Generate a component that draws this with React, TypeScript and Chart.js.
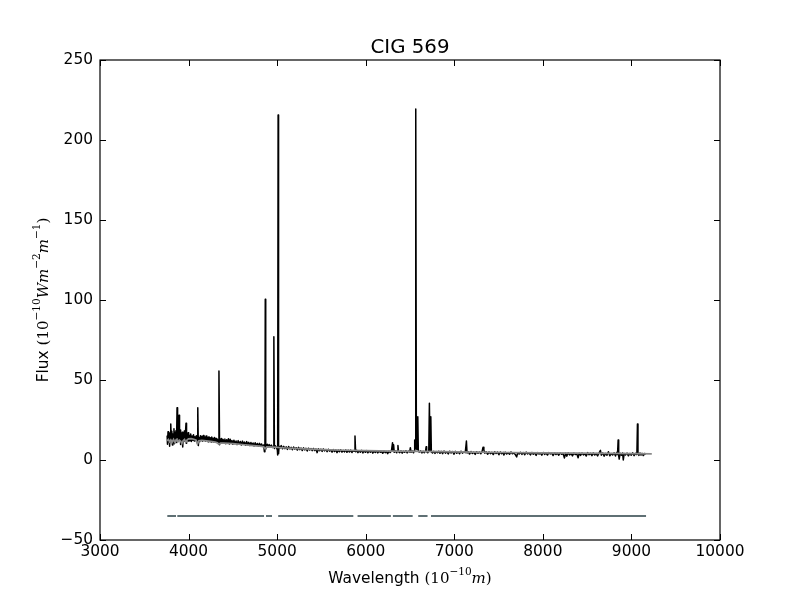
import React, { useEffect, useRef } from "react";
import { Chart, registerables } from "chart.js";

Chart.register(...registerables);

// observed spectrum, [wavelength (A), flux]
const spectrum: [number, number][] = [
  [3758, 15.2], [3762, 9.8], [3768, 17.6], [3774, 11.4], [3780, 16.8], [3786, 8.6], [3792, 14.9],
  [3799, 22.5], [3805, 12.1], [3811, 17.9], [3817, 9.4], [3823, 16.2], [3829, 12.8], [3835, 19.6],
  [3841, 10.2], [3847, 17.3], [3853, 13.5], [3859, 18.4], [3864, 11.0], [3870, 32.7], [3876, 14.2],
  [3882, 16.9], [3887, 12.3], [3892, 28.0], [3898, 13.1], [3904, 18.8], [3910, 9.7], [3916, 16.5],
  [3922, 10.8], [3928, 17.4], [3934, 8.2], [3940, 15.9], [3946, 12.6], [3952, 18.2], [3958, 11.7],
  [3964, 16.1], [3971, 23.0], [3977, 10.4], [3983, 15.3], [3989, 12.2], [3995, 17.1], [4001, 11.8],
  [4008, 15.4], [4016, 12.0], [4024, 16.2], [4032, 11.6], [4040, 15.0], [4048, 12.4], [4056, 15.8],
  [4064, 11.9], [4072, 14.6], [4080, 12.6], [4088, 15.2], [4096, 10.8], [4104, 32.7], [4110, 9.0],
  [4118, 14.0], [4126, 11.5], [4134, 15.1], [4142, 12.3], [4150, 14.8], [4158, 11.7], [4166, 15.3],
  [4174, 12.5], [4182, 14.4], [4190, 11.8], [4198, 15.0], [4206, 12.2], [4214, 14.1], [4222, 11.4],
  [4230, 14.6], [4238, 12.0], [4246, 13.9], [4254, 11.3], [4262, 14.3], [4270, 11.9], [4278, 13.6],
  [4286, 11.2], [4294, 14.0], [4302, 11.6], [4310, 13.5], [4318, 11.0], [4326, 12.9], [4336, 10.2],
  [4343, 55.6], [4350, 9.6], [4358, 13.2], [4366, 10.8], [4374, 13.4], [4382, 11.1], [4390, 12.8],
  [4400, 10.6], [4410, 13.1], [4420, 10.2], [4430, 12.6], [4440, 10.9], [4450, 13.3], [4460, 10.0],
  [4470, 12.9], [4480, 10.5], [4490, 12.2], [4500, 9.8], [4512, 12.4], [4524, 10.2], [4536, 11.9],
  [4548, 9.6], [4560, 12.1], [4572, 10.0], [4584, 11.6], [4596, 9.4], [4608, 11.8], [4620, 9.9],
  [4632, 11.2], [4644, 9.2], [4656, 11.5], [4668, 9.6], [4680, 11.0], [4692, 9.0], [4704, 10.9],
  [4716, 9.3], [4728, 10.6], [4740, 8.8], [4752, 10.8], [4764, 9.1], [4776, 10.3], [4788, 8.6],
  [4800, 10.4], [4812, 8.9], [4824, 10.0], [4836, 8.5], [4848, 9.4], [4856, 5.2], [4862, 7.0],
  [4866, 100.5], [4871, 6.8], [4878, 8.2], [4888, 9.8], [4898, 8.4], [4910, 9.6], [4922, 8.1],
  [4934, 9.3], [4946, 7.8], [4956, 8.6], [4963, 77.0], [4969, 7.2], [4978, 9.0], [4990, 7.9],
  [5002, 6.5], [5006, 3.1], [5011, 215.6], [5016, 4.0], [5022, 8.6], [5034, 7.6], [5046, 9.0],
  [5060, 7.0], [5074, 8.5], [5088, 7.1], [5102, 8.2], [5116, 6.6], [5130, 8.4], [5144, 6.9],
  [5158, 7.9], [5172, 6.4], [5186, 8.1], [5200, 6.8], [5214, 7.7], [5228, 6.2], [5242, 7.9],
  [5256, 6.5], [5270, 7.5], [5284, 5.9], [5298, 7.6], [5312, 6.3], [5326, 7.3], [5340, 5.6],
  [5354, 7.4], [5368, 6.2], [5382, 7.1], [5396, 5.8], [5410, 7.2], [5424, 5.9], [5438, 6.9],
  [5452, 4.6], [5466, 7.0], [5480, 5.8], [5494, 6.8], [5508, 5.4], [5522, 6.9], [5536, 5.7],
  [5550, 6.6], [5564, 5.2], [5578, 6.7], [5592, 5.5], [5606, 6.4], [5620, 4.9], [5634, 6.5],
  [5648, 5.3], [5662, 6.3], [5676, 4.6], [5690, 6.2], [5704, 5.2], [5718, 6.4], [5732, 4.9],
  [5746, 6.0], [5760, 5.1], [5774, 6.3], [5788, 4.8], [5802, 6.1], [5816, 5.0], [5830, 6.2],
  [5844, 4.7], [5858, 5.9], [5870, 5.4], [5879, 15.0], [5886, 5.2], [5898, 6.0], [5912, 4.6],
  [5926, 5.8], [5940, 4.9], [5954, 6.0], [5968, 4.4], [5982, 5.7], [5996, 4.8], [6010, 5.9],
  [6024, 4.5], [6038, 5.6], [6052, 4.9], [6066, 5.8], [6080, 4.3], [6094, 5.5], [6108, 4.7],
  [6122, 5.7], [6136, 4.4], [6150, 5.6], [6164, 4.8], [6178, 5.4], [6192, 4.2], [6206, 5.6],
  [6220, 4.6], [6234, 5.3], [6248, 4.0], [6262, 5.5], [6276, 4.7], [6290, 5.6], [6303, 10.8],
  [6309, 5.4], [6315, 9.5], [6322, 4.8], [6336, 5.6], [6350, 4.5], [6358, 5.8], [6364, 9.0],
  [6370, 5.2], [6384, 4.6], [6398, 5.7], [6412, 4.3], [6426, 5.5], [6440, 4.8], [6454, 5.8],
  [6468, 4.4], [6482, 5.6], [6496, 5.0], [6504, 7.7], [6512, 4.9], [6526, 5.6], [6540, 4.5],
  [6548, 5.8], [6553, 12.5], [6558, 7.0], [6563, 9.5], [6567, 219.4], [6572, 9.0], [6578, 6.5],
  [6588, 27.0], [6594, 5.4], [6606, 5.0], [6620, 5.7], [6634, 4.4], [6648, 5.5], [6662, 4.6],
  [6676, 5.6], [6682, 8.3], [6688, 5.2], [6700, 4.5], [6712, 5.6], [6719, 35.4], [6726, 5.8],
  [6735, 27.0], [6741, 5.0], [6754, 4.4], [6768, 5.4], [6782, 4.1], [6796, 5.3], [6810, 4.5],
  [6824, 5.5], [6838, 4.2], [6852, 5.4], [6868, 4.0], [6884, 5.6], [6900, 4.3], [6916, 5.2],
  [6932, 3.8], [6948, 5.5], [6964, 4.4], [6980, 5.3], [6996, 3.6], [7012, 5.4], [7028, 4.2],
  [7044, 5.1], [7060, 3.9], [7076, 5.5], [7092, 4.3], [7108, 5.0], [7124, 4.6], [7137, 11.9],
  [7144, 4.4], [7158, 5.2], [7172, 3.7], [7188, 5.3], [7204, 4.1], [7220, 4.9], [7236, 3.5],
  [7252, 5.2], [7268, 4.2], [7284, 5.0], [7300, 3.9], [7314, 5.4], [7325, 8.0], [7334, 6.2],
  [7344, 4.3], [7360, 5.1], [7376, 3.6], [7392, 5.0], [7408, 4.0], [7424, 4.8], [7440, 3.4],
  [7456, 5.1], [7472, 4.1], [7488, 4.9], [7504, 3.3], [7520, 5.0], [7536, 3.9], [7552, 4.7],
  [7560, 3.1], [7576, 4.9], [7592, 3.8], [7608, 4.6], [7624, 3.6], [7640, 5.0], [7656, 3.9],
  [7672, 4.5], [7688, 3.5], [7704, 1.9], [7716, 4.6], [7732, 3.7], [7748, 4.8], [7764, 3.5],
  [7780, 4.6], [7796, 3.3], [7812, 4.9], [7828, 3.8], [7844, 4.4], [7860, 3.2], [7876, 4.7],
  [7892, 3.6], [7908, 4.5], [7924, 2.9], [7940, 4.6], [7956, 3.7], [7972, 4.3], [7988, 3.0],
  [8004, 4.7], [8020, 3.5], [8036, 4.4], [8052, 3.1], [8068, 4.6], [8084, 3.8], [8100, 4.3],
  [8116, 2.8], [8132, 4.5], [8148, 3.4], [8164, 4.2], [8180, 3.0], [8196, 4.4], [8212, 3.6],
  [8228, 4.1], [8244, 1.3], [8256, 4.3], [8270, 2.4], [8286, 4.5], [8302, 3.2], [8318, 4.1],
  [8334, 2.6], [8350, 4.3], [8366, 3.4], [8382, 4.0], [8398, 1.4], [8410, 4.2], [8426, 2.9],
  [8442, 4.4], [8458, 3.2], [8474, 4.0], [8490, 2.5], [8506, 4.6], [8522, 3.3], [8538, 4.2],
  [8554, 2.7], [8570, 4.4], [8586, 3.1], [8602, 4.0], [8618, 2.6], [8634, 4.3], [8650, 6.0],
  [8660, 3.0], [8676, 4.4], [8692, 2.4], [8708, 4.1], [8724, 3.0], [8740, 5.2], [8756, 2.6],
  [8772, 4.0], [8788, 3.1], [8804, 4.5], [8820, 2.5], [8836, 4.8], [8843, 3.4], [8850, 12.5],
  [8856, 2.8], [8862, 0.6], [8872, 4.2], [8888, 3.0], [8900, 4.4], [8908, 0.0], [8918, 4.0],
  [8934, 3.2], [8950, 4.3], [8966, 2.6], [8982, 4.1], [8998, 3.0], [9014, 4.5], [9030, 2.7],
  [9046, 4.2], [9056, 3.4], [9062, 5.0], [9068, 22.5], [9074, 4.6], [9084, 2.9], [9096, 4.4],
  [9108, 3.1], [9120, 4.2], [9134, 2.8], [9146, 4.0], [9152, 3.5],
];

// fitted continuum (grey line)
const continuum: [number, number][] = [
  [3758, 12.0], [3772, 12.8], [3786, 11.4], [3800, 12.6], [3814, 11.2], [3830, 12.9], [3846, 11.0],
  [3862, 12.7], [3878, 11.3], [3894, 12.4], [3910, 11.8], [3924, 10.2], [3938, 12.1], [3954, 12.9],
  [3968, 11.0], [3984, 12.6], [4000, 13.2], [4030, 13.3], [4060, 13.0], [4085, 12.4], [4100, 10.0],
  [4116, 12.0], [4150, 12.3], [4200, 12.0], [4250, 11.6], [4300, 11.2], [4325, 10.8], [4342, 9.9],
  [4360, 10.6], [4400, 10.6], [4500, 10.2], [4600, 9.7], [4700, 9.2], [4800, 8.7], [4848, 8.3],
  [4864, 7.0], [4882, 8.2], [4960, 8.0], [5100, 7.5], [5300, 6.9], [5500, 6.5], [5760, 6.1],
  [6000, 5.8], [6300, 5.6], [6600, 5.4], [6840, 5.2], [7200, 4.9], [7600, 4.7], [8000, 4.5],
  [8400, 4.3], [8800, 4.1], [9230, 3.8],
];

// masked wavelength ranges shown along the bottom
const maskSegments: [number, number][] = [
  [3760, 3858], [3873, 4852], [4874, 4942], [5012, 5860],
  [5908, 6284], [6307, 6530], [6593, 6698], [6737, 9165],
];
const maskLevel = -35;

const titleText = "CIG 569";

const SANS = "DejaVu Sans";
const SERIF = "DejaVu Serif";

type Run = { text: string; font: string; rise?: number };

const xLabelRuns: Run[] = [
  { text: "Wavelength ", font: `15.4px "${SANS}"` },
  { text: "(10", font: `15px "${SERIF}"` },
  { text: "\u221210", font: `10.5px "${SERIF}"`, rise: 8 },
  { text: "m", font: `italic 15px "${SERIF}"` },
  { text: ")", font: `15px "${SERIF}"` },
];

const yLabelRuns: Run[] = [
  { text: "Flux ", font: `15.4px "${SANS}"` },
  { text: "(10", font: `15px "${SERIF}"` },
  { text: "\u221210", font: `10.5px "${SERIF}"`, rise: 8 },
  { text: "Wm", font: `italic 15px "${SERIF}"` },
  { text: "\u22122", font: `10.5px "${SERIF}"`, rise: 8 },
  { text: "m", font: `italic 15px "${SERIF}"` },
  { text: "\u22121", font: `10.5px "${SERIF}"`, rise: 8 },
  { text: ")", font: `15px "${SERIF}"` },
];

function drawRuns(ctx: CanvasRenderingContext2D, runs: Run[], cx: number, baseY: number) {
  const widths = runs.map((r) => {
    ctx.font = r.font;
    return ctx.measureText(r.text).width;
  });
  const total = widths.reduce((a, b) => a + b, 0);
  let x = cx - total / 2;
  ctx.textAlign = "left";
  ctx.textBaseline = "alphabetic";
  runs.forEach((r, i) => {
    ctx.font = r.font;
    ctx.fillText(r.text, x, baseY - (r.rise || 0));
    x += widths[i];
  });
}

const framePlugin = {
  id: "frame",
  afterDraw: (chart: any) => {
    const { ctx, chartArea: a, scales } = chart;
    ctx.save();
    ctx.strokeStyle = "#000";
    ctx.lineWidth = 1.2;
    ctx.strokeRect(a.left, a.top, a.right - a.left, a.bottom - a.top);

    // inward ticks on all four sides
    const tl = 6;
    ctx.lineWidth = 1;
    ctx.beginPath();
    scales.x.ticks.forEach((t: any) => {
      const px = Math.round(scales.x.getPixelForValue(t.value)) + 0.5;
      ctx.moveTo(px, a.bottom);
      ctx.lineTo(px, a.bottom - tl);
      ctx.moveTo(px, a.top);
      ctx.lineTo(px, a.top + tl);
    });
    scales.y.ticks.forEach((t: any) => {
      const py = Math.round(scales.y.getPixelForValue(t.value)) + 0.5;
      ctx.moveTo(a.left, py);
      ctx.lineTo(a.left + tl, py);
      ctx.moveTo(a.right, py);
      ctx.lineTo(a.right - tl, py);
    });
    ctx.stroke();

    ctx.fillStyle = "#000";
    ctx.font = `19.8px "${SANS}"`;
    ctx.textAlign = "center";
    ctx.textBaseline = "alphabetic";
    ctx.fillText(titleText, (a.left + a.right) / 2, a.top - 7);

    drawRuns(ctx, xLabelRuns, (a.left + a.right) / 2, a.bottom + 43);

    ctx.translate(a.left - 52, (a.top + a.bottom) / 2);
    ctx.rotate(-Math.PI / 2);
    drawRuns(ctx, yLabelRuns, 0, 0);
    ctx.restore();
  },
};

const App: React.FC = () => {
  const canvasRef = useRef<HTMLCanvasElement | null>(null);

  useEffect(() => {
    if (!canvasRef.current) return;
    const ctx = canvasRef.current.getContext("2d");
    if (!ctx) return;

    const maskData = maskSegments.flatMap(([a, b]) => [
      { x: a, y: maskLevel },
      { x: b, y: maskLevel },
      { x: b, y: null },
    ]);

    const chart = new Chart(ctx, {
      type: "line",
      data: {
        datasets: [
          {
            label: "continuum",
            data: continuum.map(([x, y]) => ({ x, y })),
            borderColor: "#8a8a8a",
            borderWidth: 1.7,
            pointRadius: 0,
            tension: 0,
            order: 0,
          },
          {
            label: "mask",
            data: maskData as any,
            borderColor: "#5f7074",
            borderWidth: 2.2,
            pointRadius: 0,
            spanGaps: false,
            order: 1,
          },
          {
            label: "spectrum",
            data: spectrum.map(([x, y]) => ({ x, y })),
            borderColor: "#000",
            borderWidth: 1.5,
            borderJoinStyle: "round",
            pointRadius: 0,
            tension: 0,
            order: 2,
          },
        ],
      },
      options: {
        animation: false,
        responsive: false,
        layout: { padding: { left: 0, right: 80, top: 60, bottom: 0 } },
        plugins: {
          legend: { display: false },
          tooltip: { enabled: false },
          title: { display: false },
        },
        scales: {
          x: {
            type: "linear",
            min: 3000,
            max: 10000,
            grid: { display: false, drawTicks: false },
            border: { display: false },
            ticks: {
              stepSize: 1000,
              padding: 3,
              color: "#000",
              font: { family: SANS, size: 15.4 },
              maxRotation: 0,
              callback: (v: any) => String(v),
            },
            afterFit: (scale: any) => {
              scale.height = 60;
            },
          },
          y: {
            type: "linear",
            min: -50,
            max: 250,
            grid: { display: false, drawTicks: false },
            border: { display: false },
            ticks: {
              stepSize: 50,
              padding: 7,
              color: "#000",
              font: { family: SANS, size: 15.4 },
              callback: (v: any) => (v < 0 ? "\u2212" + Math.abs(v) : String(v)),
            },
            afterFit: (scale: any) => {
              scale.width = 100;
            },
          },
        },
      },
      plugins: [framePlugin],
    });

    return () => {
      chart.destroy();
    };
  }, []);

  return (
    <div style={{ position: "absolute", left: 0, top: 0, width: 800, height: 600, background: "#fff" }}>
      <canvas ref={canvasRef} width={800} height={600}></canvas>
    </div>
  );
};

export default App;
